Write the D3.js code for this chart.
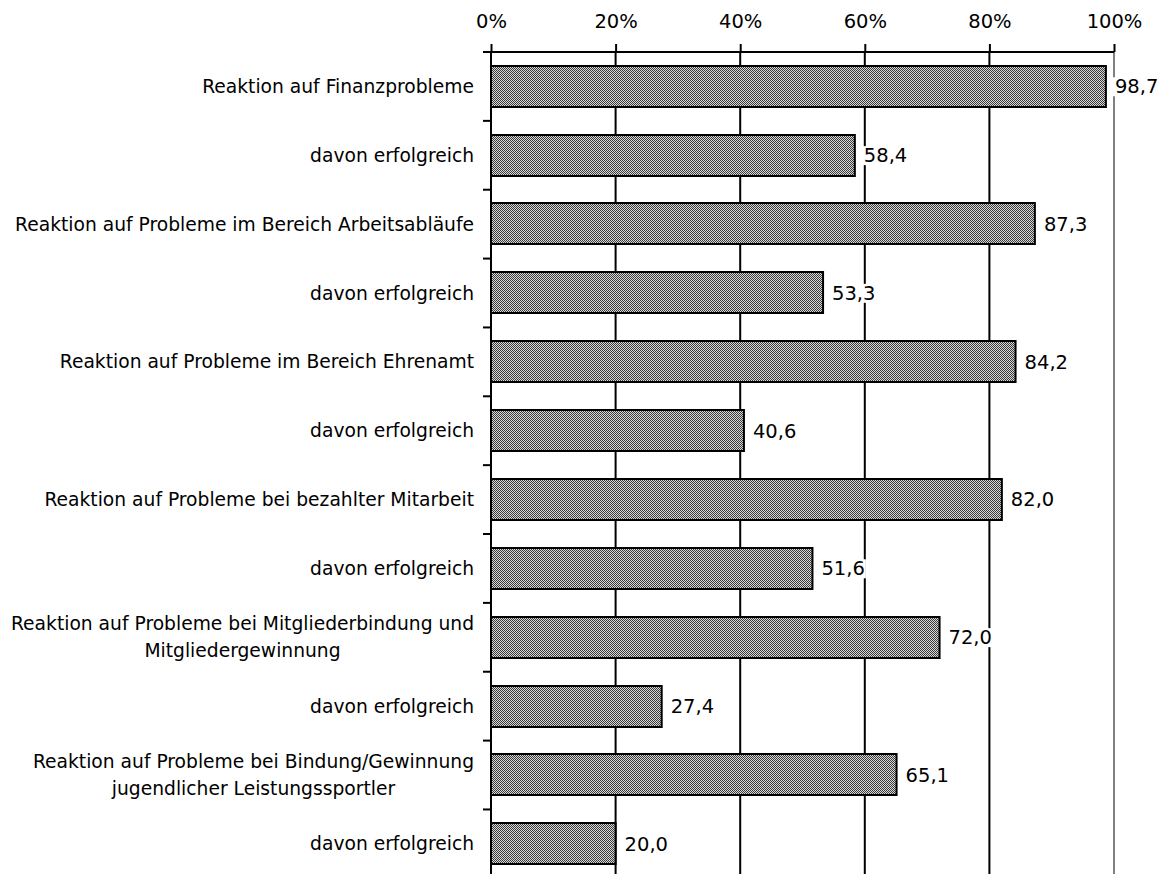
<!DOCTYPE html>
<html lang="de">
<head>
<meta charset="UTF-8">
<title>Reaktion auf Probleme</title>
<script src="https://d3js.org/d3.v7.min.js"></script>
<style>
  body { margin: 0; background: #fff; }
  svg { font-family: "DejaVu Sans", Verdana, sans-serif; font-size: 18.7px; }
</style>
</head>
<body>
<svg id="chart" width="1163" height="874"></svg>
<script>
// Data
const categories = [
  ["Reaktion auf Finanzprobleme"],
  ["davon erfolgreich"],
  ["Reaktion auf Probleme im Bereich Arbeitsabläufe"],
  ["davon erfolgreich"],
  ["Reaktion auf Probleme im Bereich Ehrenamt"],
  ["davon erfolgreich"],
  ["Reaktion auf Probleme bei bezahlter Mitarbeit"],
  ["davon erfolgreich"],
  ["Reaktion auf Probleme bei Mitgliederbindung und", "Mitgliedergewinnung"],
  ["davon erfolgreich"],
  ["Reaktion auf Probleme bei Bindung/Gewinnung", "jugendlicher Leistungssportler"],
  ["davon erfolgreich"]
];
const values = [98.7, 58.4, 87.3, 53.3, 84.2, 40.6, 82.0, 51.6, 72.0, 27.4, 65.1, 20.0];
const ticks = [0, 20, 40, 60, 80, 100];

const svg = d3.select("#chart");
const margin = { top: 52, left: 491 };
const plotW = 623;
const plotH = 12 * 68.86;

const x = d3.scaleLinear().domain([0, 100]).range([margin.left, margin.left + plotW]);
const y = d3.scaleBand().domain(d3.range(values.length))
  .range([margin.top, margin.top + plotH]).paddingInner(0.4).paddingOuter(0.2);

// dither pattern for bars
const pat = svg.append("defs").append("pattern")
  .attr("id", "dots").attr("patternUnits", "userSpaceOnUse")
  .attr("width", 2).attr("height", 2);
pat.append("rect").attr("width", 2).attr("height", 2).attr("fill", "#d8d8d8");
pat.append("rect").attr("width", 1).attr("height", 1).attr("fill", "#3a3a3a");
pat.append("rect").attr("x", 1).attr("y", 1).attr("width", 1).attr("height", 1).attr("fill", "#3a3a3a");

// gridlines
svg.append("g").selectAll("line")
  .data(ticks.filter(t => t > 0 && t < 100))
  .join("line")
  .attr("x1", d => x(d)).attr("x2", d => x(d))
  .attr("y1", margin.top).attr("y2", margin.top + plotH)
  .attr("stroke", "#000").attr("stroke-width", 2);

// right border
svg.append("line")
  .attr("x1", x(100)).attr("x2", x(100))
  .attr("y1", margin.top).attr("y2", margin.top + plotH)
  .attr("stroke", "#808080").attr("stroke-width", 2);

// top axis
const topAxis = svg.append("g")
  .attr("transform", `translate(0,${margin.top})`)
  .call(d3.axisTop(x).tickValues(ticks).tickSize(8).tickPadding(16)
    .tickFormat(d => d + "%"));
topAxis.select(".domain").remove();
topAxis.selectAll(".tick line").attr("stroke", "#000").attr("stroke-width", 2);
topAxis.selectAll(".tick text").attr("font-size", 19.5).attr("font-family", "DejaVu Sans").attr("fill", "#000");
svg.append("line")
  .attr("x1", margin.left - 8).attr("x2", x(100))
  .attr("y1", margin.top).attr("y2", margin.top)
  .attr("stroke", "#000").attr("stroke-width", 2);

// bars
svg.append("g").selectAll("rect")
  .data(values)
  .join("rect")
  .attr("x", x(0))
  .attr("y", (d, i) => Math.round(y(i)))
  .attr("width", d => x(d) - x(0))
  .attr("height", Math.round(y.bandwidth()))
  .attr("fill", "url(#dots)")
  .attr("stroke", "#000").attr("stroke-width", 2);

// left axis + category ticks
const step = y.step();
svg.append("line")
  .attr("x1", x(0)).attr("x2", x(0))
  .attr("y1", margin.top).attr("y2", margin.top + plotH)
  .attr("stroke", "#000").attr("stroke-width", 2);
svg.append("g").selectAll("line")
  .data(d3.range(1, values.length))
  .join("line")
  .attr("x1", x(0) - 8).attr("x2", x(0))
  .attr("y1", i => margin.top + i * step).attr("y2", i => margin.top + i * step)
  .attr("stroke", "#000").attr("stroke-width", 2);

// category labels (right-aligned block, lines centred)
const lineH = 27;
categories.forEach((lines, i) => {
  const cy = y(i) + y.bandwidth() / 2;
  const g = svg.append("g");
  const texts = lines.map((t, k) => g.append("text")
    .attr("y", cy + (k - (lines.length - 1) / 2) * lineH)
    .attr("dy", "0.35em").attr("fill", "#000").text(t));
  const w = d3.max(texts, t => t.node().getComputedTextLength());
  const cx = x(0) - 17 - w / 2;
  texts.forEach(t => t.attr("x", cx).attr("text-anchor", "middle"));
});

// value labels with white background
values.forEach((v, i) => {
  const cy = y(i) + y.bandwidth() / 2;
  const g = svg.append("g");
  const bg = g.append("rect").attr("fill", "#fff");
  const t = g.append("text")
    .attr("x", x(v) + 9).attr("y", cy).attr("dy", "0.35em")
    .attr("font-size", 19.5)
    .attr("fill", "#000").text(d3.format(".1f")(v).replace(".", ","));
  const b = t.node().getBBox();
  bg.attr("x", b.x - 2).attr("y", b.y + 2).attr("width", b.width + 3).attr("height", b.height - 4);
});
</script>
</body>
</html>
